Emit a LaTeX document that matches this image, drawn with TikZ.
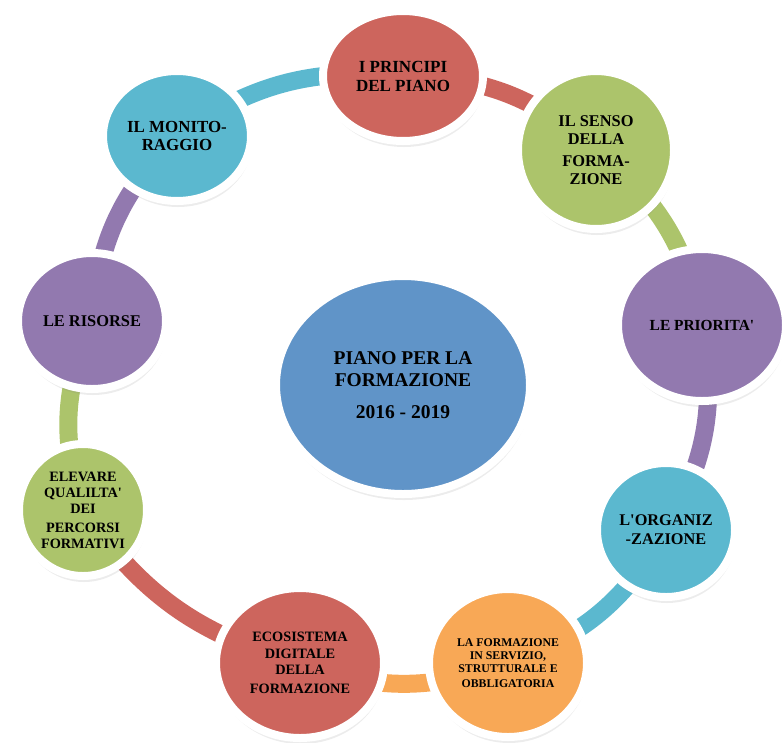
\documentclass[tikz,border=0pt]{standalone}
\usepackage{fontspec}
\setmainfont{Liberation Serif}
\usetikzlibrary{shapes.geometric,shadows}
\pgfdeclarelayer{background}
\pgfsetlayers{background,main}
\definecolor{cred}{RGB}{205,101,93}
\definecolor{cgreen}{RGB}{172,196,107}
\definecolor{cpurple}{RGB}{146,121,175}
\definecolor{cteal}{RGB}{91,184,207}
\definecolor{corange}{RGB}{248,168,86}
\definecolor{cblue}{RGB}{96,148,200}
\tikzset{
	bubble/.style={ellipse, draw=white, line width=8pt, inner sep=0pt, align=center, text=black,
		drop shadow={shadow xshift=1pt, shadow yshift=-6pt, opacity=0.15}},
	ring/.style={line width=18pt}
}

\begin{document}
\begin{tikzpicture}[x=1pt, y=-1pt]
\useasboundingbox (0,0) rectangle (783,742);
\node[bubble, fill=cblue, minimum width=254pt, minimum height=218pt, font=\bfseries\fontsize{19.5}{22}\selectfont] (piano) at (403,385) {PIANO PER LA\\FORMAZIONE\\[10pt]2016 - 2019};
\node[bubble, fill=cred, minimum width=160pt, minimum height=130pt, font=\bfseries\fontsize{17}{19}\selectfont] (principi) at (403,76) {I PRINCIPI\\DEL PIANO};
\node[bubble, fill=cgreen, minimum width=156pt, minimum height=158pt, font=\bfseries\fontsize{16.4}{18}\selectfont] (senso) at (596,150) {IL SENSO\\DELLA\\[4pt]FORMA-\\ZIONE};
\node[bubble, fill=cpurple, minimum width=168pt, minimum height=152pt, font=\bfseries\fontsize{15.4}{18}\selectfont] (priorita) at (702,325) {LE PRIORITA\textquotesingle};
\node[bubble, fill=cteal, minimum width=138pt, minimum height=134pt, font=\bfseries\fontsize{16.3}{19}\selectfont] (organiz) at (666,530) {L\textquotesingle ORGANIZ\\-ZAZIONE};
\node[bubble, fill=corange, minimum width=158pt, minimum height=148pt, font=\bfseries\fontsize{11.8}{13}\selectfont] (servizio) at (508,663) {LA FORMAZIONE\\IN SERVIZIO,\\STRUTTURALE E\\[2pt]OBBLIGATORIA};
\node[bubble, fill=cred, minimum width=168pt, minimum height=150pt, font=\bfseries\fontsize{14.3}{16.5}\selectfont] (ecosist) at (300,663) {ECOSISTEMA\\DIGITALE\\DELLA\\[2.5pt]FORMAZIONE};
\node[bubble, fill=cgreen, minimum width=128pt, minimum height=132pt, font=\bfseries\fontsize{14.3}{16}\selectfont] (elevare) at (83,510) {ELEVARE\\QUALILTA\textquotesingle\\DEI\\[3pt]PERCORSI\\FORMATIVI};
\node[bubble, fill=cpurple, minimum width=148pt, minimum height=136pt, font=\bfseries\fontsize{16.4}{18}\selectfont] (risorse) at (92,321) {LE RISORSE};
\node[bubble, fill=cteal, minimum width=148pt, minimum height=130pt, font=\bfseries\fontsize{16.9}{18}\selectfont] (monit) at (177,136) {IL MONITO-\\RAGGIO};
\begin{pgfonlayer}{background}
\path[ring]
(principi.center) edge[cred, bend left=20] (senso.center)
(senso.center) edge[cgreen, bend left=20] (priorita.center)
(priorita.center) edge[cpurple, bend left=20] (organiz.center)
(organiz.center) edge[cteal, bend left=20] (servizio.center)
(servizio.center) edge[corange, bend left=20] (ecosist.center)
(ecosist.center) edge[cred, bend left=20] (elevare.center)
(elevare.center) edge[cgreen, bend left=20] (risorse.center)
(risorse.center) edge[cpurple, bend left=20] (monit.center)
(monit.center) edge[cteal, bend left=20] (principi.center)
;
\end{pgfonlayer}
\end{tikzpicture}
\end{document}
